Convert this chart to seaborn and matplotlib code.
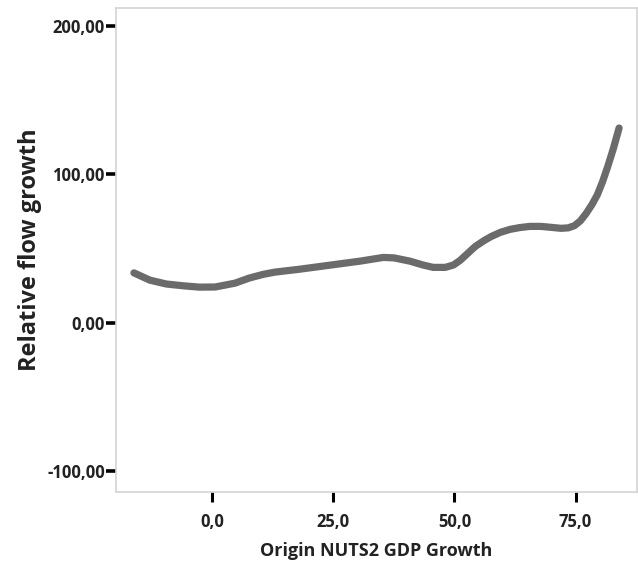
import matplotlib
matplotlib.use("Agg")
import matplotlib.pyplot as plt
import seaborn as sns
import pandas as pd
from matplotlib.ticker import FuncFormatter

# Fitted curve of relative flow growth against origin GDP growth
gdp_growth = [-16.2, -12.9, -9.5, -6.0, -2.7, 0.6, 4.7, 7.6, 10.5, 12.9, 18.1, 24.3,
              30.5, 35.3, 37.5, 40.8, 43.5, 45.6, 48.1, 49.8, 51.2, 52.8, 54.3, 56.0,
              57.6, 59.5, 61.5, 63.5, 65.6, 67.8, 69.8, 72.0, 73.5, 74.8, 76.0, 77.2,
              78.4, 79.5, 80.6, 81.6, 82.8, 84.0]
flow_growth = [33.5, 28.6, 26.0, 24.8, 23.9, 24.0, 26.6, 30.0, 32.5, 34.0, 36.0, 38.7,
               41.4, 43.9, 43.6, 41.4, 38.8, 37.2, 37.2, 38.8, 42.0, 46.8, 51.3, 55.0,
               58.0, 60.8, 62.8, 64.0, 64.8, 64.8, 64.2, 63.5, 63.8, 65.3, 68.5, 73.5,
               79.5, 86.0, 95.0, 104.5, 117.0, 131.0]

x_ticks = [0, 25, 50, 75]
y_ticks = [-100, 0, 100, 200]

df = pd.DataFrame({"gdp": gdp_growth, "flow": flow_growth})

sns.set_theme(style="white")
plt.rcParams["font.family"] = ["Open Sans", "DejaVu Sans"]

fig = plt.figure(figsize=(6.38, 5.64), dpi=100)
ax = fig.add_axes([116 / 638, 1 - 492 / 564, (637 - 116) / 638, (492 - 8) / 564])

sns.lineplot(data=df, x="gdp", y="flow", ax=ax, color="#6b6b6b", linewidth=5.2,
             solid_capstyle="round", solid_joinstyle="round", sort=False)

ax.set_xlim(-19.9, 87.7)
ax.set_ylim(-114.0, 211.8)
ax.set_xticks(x_ticks)
ax.set_yticks(y_ticks)
ax.xaxis.set_major_formatter(FuncFormatter(lambda v, p: f"{v:.1f}".replace(".", ",")))
ax.yaxis.set_major_formatter(FuncFormatter(lambda v, p: f"{v:.2f}".replace(".", ",")))

for s in ax.spines.values():
    s.set_color("#d4d4d4")
    s.set_linewidth(1.2)

ax.tick_params(axis="y", direction="out", length=7, width=2.6, color="black",
               pad=1, labelsize=12, left=True)
ax.tick_params(axis="x", direction="out", length=7, width=2.2, color="black",
               pad=8, labelsize=12, bottom=True)
for lbl in ax.get_xticklabels() + ax.get_yticklabels():
    lbl.set_fontweight("bold")
    lbl.set_color("#222222")

ax.set_xlabel("Origin NUTS2 GDP Growth", fontsize=13, fontweight="bold",
              color="#222222", labelpad=8)
ax.set_ylabel("Relative flow growth", fontsize=17, fontweight="bold",
              color="#222222", labelpad=4)

fig.savefig("out.png", dpi=100, facecolor="white")
